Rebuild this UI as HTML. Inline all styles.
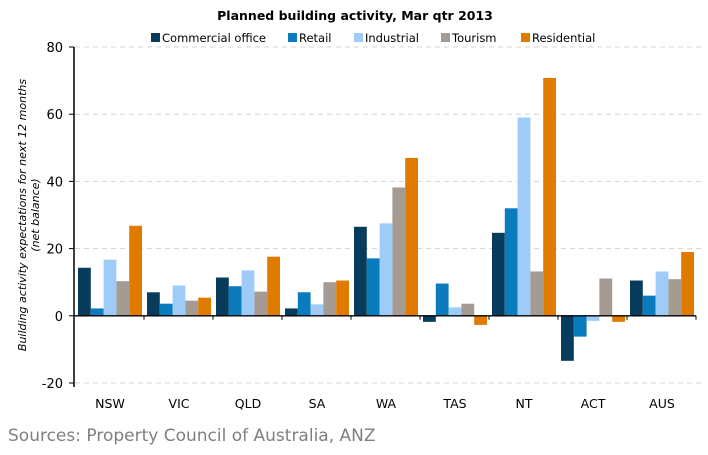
<!DOCTYPE html>
<html><head><meta charset="utf-8"><style>
body{margin:0;background:#fff;width:708px;height:451px;overflow:hidden;font-family:"DejaVu Sans","Liberation Sans",sans-serif}
svg text{font-family:"DejaVu Sans","Liberation Sans",sans-serif}
</style></head><body>
<svg id="c" width="708" height="451">
<text x="355" y="20" text-anchor="middle" font-size="12.5" font-weight="bold" fill="#000">Planned building activity, Mar qtr 2013</text>
<g id="legend"></g>
<g id="grid"></g>
<g id="bars"></g>
<g id="axes"></g>
<text transform="translate(26,215) rotate(-90)" text-anchor="middle" font-size="11" font-style="italic" fill="#000"><tspan x="0" dy="0">Building activity expectations for next 12 months</tspan><tspan x="0" dy="13">(net balance)</tspan></text>
<text x="8" y="441" font-size="17" fill="#7f7f7f" font-family="Liberation Sans">Sources: Property Council of Australia, ANZ</text>
</svg>
<script>
const categories=["NSW","VIC","QLD","SA","WA","TAS","NT","ACT","AUS"];
const seriesNames=["Commercial office","Retail","Industrial","Tourism","Residential"];
const commercial=[14.3,7,11.4,2.2,26.5,-1.8,24.7,-13.4,10.5];
const retail=[2.2,3.6,8.8,7,17.1,9.6,32,-6.2,6];
const industrial=[16.7,9,13.5,3.4,27.5,2.5,59,-1.5,13.2];
const tourism=[10.3,4.5,7.2,10,38.2,3.6,13.2,11.1,10.9];
const residential=[26.8,5.4,17.6,10.5,47,-2.7,70.8,-1.8,19];
const yTicks=[-20,0,20,40,60,80];
const colors=["#083c5c","#0a7bbd","#9ecbf7","#a59b93","#e07b00"];
const series=[commercial,retail,industrial,tourism,residential];
const NS="http://www.w3.org/2000/svg";
function mk(t,a,p){const e=document.createElementNS(NS,t);for(const k in a)e.setAttribute(k,a[k]);p.appendChild(e);return e;}
const y0=315.8,ppu=3.36;
function y(v){return y0-v*ppu;}
const gx0=75,gw=69,bw=12.8,bo=3,ax=74;
function x(i){return gx0+i*gw;}
const grid=document.getElementById('grid'),axes=document.getElementById('axes'),bars=document.getElementById('bars'),leg=document.getElementById('legend');
yTicks.forEach(t=>{
 if(t!==0){const l=mk('line',{x1:ax+1,x2:705,y1:y(t),y2:y(t),stroke:'#d4d4d4','stroke-dasharray':'5,4'},grid);
 
 }
 const tk=mk('line',{x1:ax-5,x2:ax,y1:y(t),y2:y(t),stroke:'#000'},axes);
 
 
 const tx=mk('text',{x:ax-11,y:y(t)+5,'text-anchor':'end','font-size':13,fill:'#000'},axes);tx.textContent=t;
 
 
});
series.forEach((s,si)=>s.forEach((v,i)=>{
 const r=mk('rect',{x:x(i)+bo+si*bw,y:Math.min(y(v),y0),width:bw,height:Math.abs(y(v)-y0),fill:colors[si]},bars);
 
 
}));
const ya=mk('line',{x1:ax,x2:ax,y1:y(80),y2:y(-20)+4,stroke:'#000','stroke-width':1.5},axes);


const xa=mk('line',{x1:ax,x2:x(9),y1:y0,y2:y0,stroke:'#000','stroke-width':1.3},axes);


for(let i=1;i<=categories.length;i++){
 const tk=mk('line',{x1:x(i),x2:x(i),y1:y0,y2:y0+4,stroke:'#000'},axes);
 
 
}
categories.forEach((c,i)=>{
 const t=mk('text',{x:x(i)+bo+2.5*bw,y:408,'text-anchor':'middle','font-size':12.5,fill:'#000'},axes);t.textContent=c;
 
 
});
const lx=[151,288,354,441,521];
seriesNames.forEach((n,i)=>{
 const g=mk('g',{},leg);
 
 
 mk('rect',{x:lx[i],y:33,width:9,height:9,fill:colors[i]},g);
 const t=mk('text',{x:lx[i]+11,y:42,'font-size':11.5,fill:'#000'},g);t.textContent=n;
});
</script>
</body></html>
